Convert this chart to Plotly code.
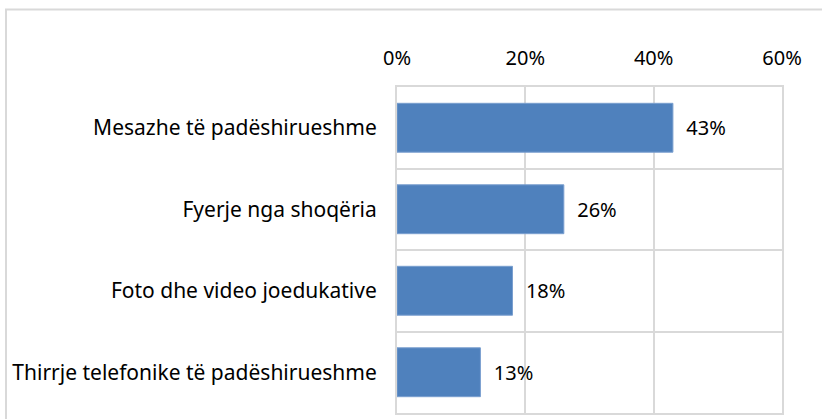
import plotly.graph_objects as go

categories = ["Mesazhe të padëshirueshme", "Fyerje nga shoqëria",
              "Foto dhe video joedukative", "Thirrje telefonike të padëshirueshme"]
values = [0.43, 0.26, 0.18, 0.13]
x_ticks = [0, 0.2, 0.4, 0.6]
x_ticklabels = ["0%", "20%", "40%", "60%"]

n = len(categories)
ypos = list(range(n))
bounds = [i + 0.5 for i in range(n - 1)]

FONT = "Noto Sans"
FS = 21
GRID = "#D9D9D9"

fig = go.Figure(go.Bar(
    x=values, y=ypos, orientation="h",
    marker=dict(color="#4F81BD", line=dict(color="#7A9FCF", width=1)),
    width=0.6,
    text=[f"\u00a0\u00a0{round(v*100)}%" for v in values],
    textposition="outside", cliponaxis=False,
    textfont=dict(family=FONT, size=FS - 1, color="#000000"),
))

fig.update_layout(
    width=822, height=419,
    margin=dict(l=397, r=40, t=87, b=4),
    paper_bgcolor="white", plot_bgcolor="white",
    showlegend=False,
    font=dict(family=FONT, size=FS, color="#000000"),
    xaxis=dict(side="top", range=[0, 0.6], tickvals=x_ticks, ticktext=x_ticklabels,
               showgrid=True, gridcolor=GRID, gridwidth=2, zeroline=False,
               showline=True, linecolor=GRID, linewidth=2, mirror=True,
               ticks="outside", ticklen=12, tickcolor="rgba(0,0,0,0)",
               tickfont=dict(family=FONT, size=FS - 1, color="#000000"), fixedrange=True),
    yaxis=dict(range=[n - 0.5, -0.5], tickvals=ypos, ticktext=categories,
               showgrid=False, zeroline=False,
               showline=True, linecolor=GRID, linewidth=2, mirror=True,
               ticks="outside", ticklen=14, tickcolor="rgba(0,0,0,0)",
               minor=dict(tickvals=bounds, showgrid=True, gridcolor=GRID, gridwidth=2, ticks=""),
               tickfont=dict(family=FONT, size=FS, color="#000000"), fixedrange=True),
)

# outer chart border
fig.add_shape(type="rect", xref="paper", yref="paper",
              x0=(6 - 397) / 385, x1=(830 - 397) / 385,
              y0=(415 - 430) / 328, y1=(415 - 9) / 328,
              line=dict(color=GRID, width=2), fillcolor="rgba(0,0,0,0)", layer="below")

fig.write_html("out.html", config={"displayModeBar": False},
               post_script="document.body.style.margin='0px';")
